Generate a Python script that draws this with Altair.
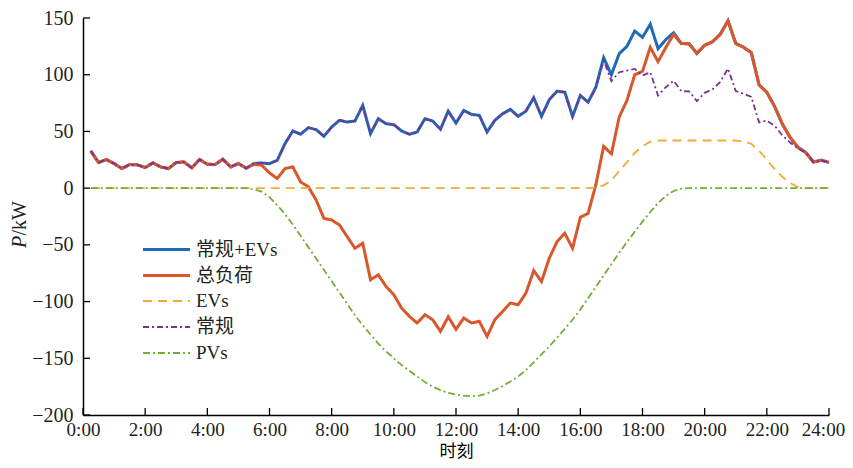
import altair as alt
import pandas as pd

# time axis: 15-minute steps from 0:15 to 24:00 (hours)
hours = [0.25 * k for k in range(1, 97)]

conventional = [32.8, 22.6, 25.2, 21.7, 17.3, 20.8, 20.5, 18.2, 22.3, 18.7,
                17.3, 22.6, 23.1, 17.9, 25.2, 21.1, 20.8, 25.5, 18.7, 21.7,
                17.6, 21.7, 22.2, 21.6, 24.6, 39.3, 50.4, 47.5, 53.3, 51.6,
                45.7, 53.9, 59.8, 58.3, 59.2, 72.9, 48.1, 61.2, 56.8, 56.0,
                50.4, 47.5, 49.5, 61.2, 59.2, 51.9, 67.9, 57.4, 68.5, 65.0,
                64.1, 49.5, 59.8, 65.6, 69.4, 63.3, 67.9, 79.7, 63.3, 77.9,
                85.5, 84.6, 63.3, 81.7, 75.8, 88.5, 112.5, 94.3, 102.2, 103.7,
                105.1, 99.3, 102.2, 81.7, 89.0, 94.7, 85.5, 85.3, 76.8, 84.0,
                87.0, 93.6, 105.5, 85.6, 83.2, 80.5, 58.0, 59.5, 55.0, 46.5,
                40.2, 35.0, 31.5, 23.0, 24.6, 22.7]

conv_plus_ev = [32.8, 22.6, 25.2, 21.7, 17.3, 20.8, 20.5, 18.2, 22.3, 18.7,
                17.3, 22.6, 23.1, 17.9, 25.2, 21.1, 20.8, 25.5, 18.7, 21.7,
                17.6, 21.7, 22.2, 21.6, 24.6, 39.3, 50.4, 47.5, 53.3, 51.6,
                45.7, 53.9, 59.8, 58.3, 59.2, 72.9, 48.1, 61.2, 56.8, 56.0,
                50.4, 47.5, 49.5, 61.2, 59.2, 51.9, 67.9, 57.4, 68.5, 65.0,
                64.1, 49.5, 59.8, 65.6, 69.4, 63.3, 67.9, 79.7, 63.3, 77.9,
                85.5, 84.6, 63.3, 81.7, 75.8, 89.0, 115.0, 100.0, 118.5, 125.0,
                138.5, 133.0, 144.5, 123.0, 131.0, 137.0, 127.5, 127.3, 118.8, 126.0,
                129.0, 135.6, 147.5, 127.6, 124.2, 119.5, 91.0, 84.5, 72.0, 56.5,
                44.7, 36.0, 31.5, 23.0, 24.6, 22.7]

total_load = [32.8, 22.6, 25.2, 21.7, 17.3, 20.8, 20.5, 18.2, 22.3, 18.7,
              17.3, 22.6, 23.1, 17.9, 25.2, 21.1, 20.8, 25.5, 18.7, 21.7,
              17.6, 21.0, 20.2, 13.4, 8.5, 17.3, 18.7, 5.5, 1.2, -10.5,
              -26.6, -28.1, -32.5, -42.8, -53.0, -48.6, -80.8, -76.4, -86.7, -94.0,
              -105.7, -113.1, -118.9, -111.6, -116.0, -126.3, -113.4, -124.5, -114.5, -118.9,
              -117.4, -130.7, -116.0, -108.7, -101.3, -102.8, -92.5, -72.7, -82.3, -61.8,
              -47.2, -39.8, -53.0, -25.7, -22.3, 3.0, 36.9, 30.2, 62.7, 77.3,
              100.0, 103.0, 124.2, 111.5, 124.0, 135.5, 127.5, 127.3, 118.8, 126.0,
              129.0, 135.6, 147.5, 127.6, 124.2, 119.5, 91.0, 84.5, 72.0, 56.5,
              44.7, 36.0, 31.5, 23.0, 24.6, 22.7]

ev_load = ([0.0] * 65 +
           [0.5, 2.5, 7.0, 15.0, 23.0, 31.0, 37.0, 41.0] +
           [42.0] * 11 +
           [41.0, 39.0, 33.0, 25.0, 17.0, 10.0, 4.5, 1.0] +
           [0.0] * 4)

pv_output = ([0.0] * 21 +
             [-1, -3, -8, -15, -23, -32, -42, -52, -62,
              -72, -82, -92, -102, -112, -121, -129, -137, -144, -150,
              -156, -161, -166, -171, -175, -178, -180.5, -182, -183, -183.5,
              -183, -181, -178, -174.5, -170.5, -166, -160.5, -153.5, -146.5, -139.5,
              -132, -124, -116, -107, -97, -87, -77, -67, -57, -47.5,
              -38.5, -29.5, -21, -13, -7, -2.5, -0.5] +
             [0.0] * 19)

series_names = ["常规+EVs", "总负荷", "EVs", "常规", "PVs"]
series_values = [conv_plus_ev, total_load, ev_load, conventional, pv_output]
series_colors = ["#1f6ab4", "#d9582b", "#f2ab33", "#7b3194", "#72ad36"]
series_widths = [3.0, 3.0, 1.8, 1.8, 1.8]
series_dashes = [[1, 0], [1, 0], [9, 6], [6, 3, 2, 3], [7, 3, 2, 3]]

y_ticks = [-200, -150, -100, -50, 0, 50, 100, 150]
x_ticks = [0, 2, 4, 6, 8, 10, 12, 14, 16, 18, 20, 22, 24]

W, H = 746, 397
SERIF = "Liberation Serif, Noto Sans CJK SC"
CJK = "Noto Sans CJK SC"

x_enc = alt.X("t:Q", scale=alt.Scale(domain=[0, 24], nice=False, zero=False),
              axis=alt.Axis(values=x_ticks, labelExpr="datum.value + ':00'",
                            labelOffset={"condition": {"test": "datum.value == 24", "value": -6},
                                         "value": 0},
                            labelFontSize=19,
                            title="时刻", titleFont=CJK, titleFontSize=17,
                            titleFontWeight="normal", titlePadding=4,
                            labelPadding=5, labelFlush=False))
y_enc = alt.Y("v:Q", scale=alt.Scale(domain=[-200, 150], nice=False),
              axis=alt.Axis(values=y_ticks, title=None, labelPadding=10))

layers = []
for name, vals, col, w, d in zip(series_names, series_values, series_colors,
                                 series_widths, series_dashes):
    df = pd.DataFrame({"t": hours, "v": vals})
    layers.append(
        alt.Chart(df).mark_line(color=col, strokeWidth=w, strokeDash=d)
        .encode(x=x_enc, y=y_enc)
    )

# inward tick marks
yt = pd.DataFrame({"v": y_ticks})
layers.append(alt.Chart(yt).mark_rule(color="black", strokeWidth=1.3)
              .encode(y=y_enc, x=alt.value(0), x2=alt.value(7)))
xt = pd.DataFrame({"t": x_ticks})
layers.append(alt.Chart(xt).mark_rule(color="black", strokeWidth=1.3)
              .encode(x=x_enc, y=alt.value(H), y2=alt.value(H - 7)))

# legend
one = pd.DataFrame({"a": [0]})
legend_rows = [231.5, 257.5, 283, 309, 335]
for name, col, w, d, ry in zip(series_names, series_colors, series_widths,
                               series_dashes, legend_rows):
    layers.append(alt.Chart(one).mark_rule(color=col, strokeWidth=w, strokeDash=d)
                  .encode(x=alt.value(60), x2=alt.value(107), y=alt.value(ry)))
    layers.append(alt.Chart(one).mark_text(text=name, align="left", baseline="middle",
                                           font=SERIF, fontSize=19, color="#231f20")
                  .encode(x=alt.value(113), y=alt.value(ry)))

# y axis title: italic P + /kW
layers.append(alt.Chart(one).mark_text(text="P", angle=270, align="left", baseline="middle",
                                       font="Liberation Serif", fontStyle="italic",
                                       fontSize=20, color="#231f20")
              .encode(x=alt.value(-63), y=alt.value(230)))
layers.append(alt.Chart(one).mark_text(text="/kW", angle=270, align="left", baseline="middle",
                                       font="Liberation Serif", fontSize=20, color="#231f20")
              .encode(x=alt.value(-63), y=alt.value(217.5)))

chart = alt.layer(*layers).properties(
    width=W, height=H,
    autosize=alt.AutoSizeParams(type="none"),
    padding={"left": 75, "top": 10, "right": 16, "bottom": 45},
).configure_view(stroke=None).configure_axis(
    grid=False, ticks=False, tickSize=0,
    domainColor="black", domainWidth=1.5,
    labelFont="Liberation Serif", labelFontSize=20, labelColor="#231f20",
)

chart.save("out.html", embed_options={"renderer": "svg", "actions": False})
